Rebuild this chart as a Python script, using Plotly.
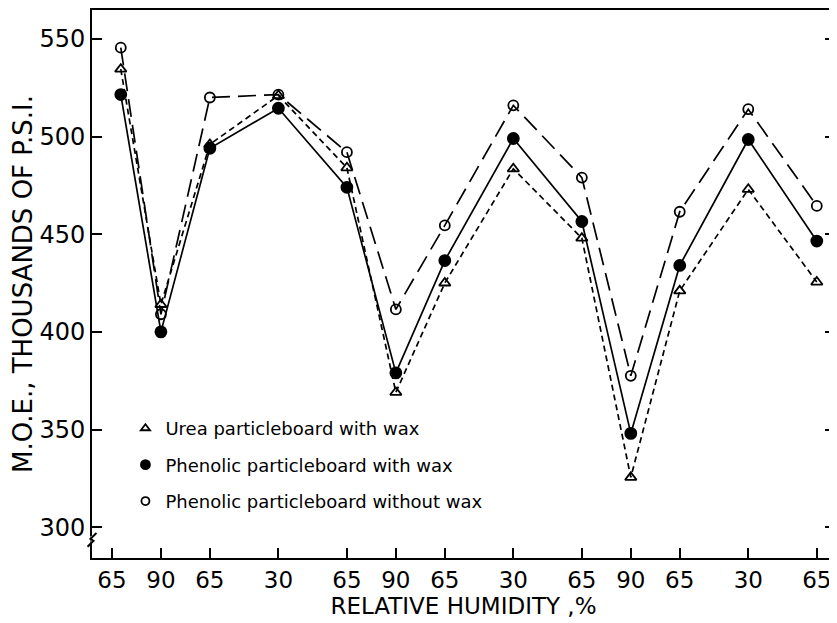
import plotly.graph_objects as go

# Relative humidity sequence (x-axis categories, spaced by humidity change)
rh_labels = [65, 90, 65, 30, 65, 90, 65, 30, 65, 90, 65, 30, 65]

# M.O.E. values, thousands of psi
urea_wax = [534.5, 414, 496, 521, 484, 369, 425, 483.5, 448, 325.5, 421, 473, 425.5]
phenolic_wax = [521.5, 400, 494, 514.5, 474, 379, 436.5, 499, 456.5, 348, 434, 498.5, 446.5]
phenolic_nowax = [545.5, 409, 520, 521.5, 492, 411.5, 454.5, 516, 479, 377.5, 461.5, 514, 464.5]

names = ["Urea particleboard with wax",
         "Phenolic particleboard with wax",
         "Phenolic particleboard without wax"]

# x positions: cumulative humidity change
xpos = [0]
for a, b in zip(rh_labels[:-1], rh_labels[1:]):
    xpos.append(xpos[-1] + abs(b - a))
first_offset = 4.5
xpts = [xpos[0] + first_offset] + xpos[1:]

FONT = "DejaVu Sans"
fig = go.Figure()

styles = [
    (urea_wax, "6px,4px", "triangle-up-open", 10, 8),
    (phenolic_wax, "solid", "circle", 11, 9),
    (phenolic_nowax, "18px,8px", "circle-open", 10, 8),
]

for vals, dash, sym, sz, lsz in styles:
    fig.add_trace(go.Scatter(x=xpts, y=vals, mode="lines", showlegend=False,
                             line=dict(color="black", width=1.7, dash=dash),
                             hoverinfo="skip"))
for (vals, dash, sym, sz, lsz), nm in zip(styles, names):
    fig.add_trace(go.Scatter(x=xpts, y=vals, mode="markers", showlegend=False,
                             marker=dict(symbol=sym, size=sz, color="black",
                                         line=dict(width=1.8, color="black")),
                             cliponaxis=False, name=nm))
    # legend entry (markers only, smaller as in the original)
    fig.add_trace(go.Scatter(x=[None], y=[None], mode="markers", name=nm,
                             legendgroup=nm, showlegend=True,
                             marker=dict(symbol=sym, size=lsz, color="black",
                                         line=dict(width=1.8, color="black"))))

fig.update_layout(
    width=829, height=615,
    margin=dict(l=84, r=2, t=0, b=65),
    paper_bgcolor="white", plot_bgcolor="white",
    font=dict(family=FONT, color="black", size=20),
    legend=dict(x=0.045, y=0.27, xanchor="left", yanchor="top",
                font=dict(size=18, family=FONT), bgcolor="rgba(0,0,0,0)",
                traceorder="grouped", tracegroupgap=10),
)
fig.update_xaxes(range=[-10.2, 369.3], tickvals=xpos, ticktext=[str(v) for v in rh_labels],
                 showgrid=False, zeroline=False, showline=True, linewidth=2, linecolor="black",
                 mirror=True, ticks="inside", ticklen=10, tickwidth=1.8, tickcolor="black",
                 tickfont=dict(size=23),
                 title=dict(text="RELATIVE HUMIDITY ,%", font=dict(size=23), standoff=6))
fig.update_yaxes(range=[284.2, 564.8], tickvals=[300, 350, 400, 450, 500, 550],
                 showgrid=False, zeroline=False, showline=True, linewidth=2, linecolor="black",
                 mirror="ticks", ticks="inside", ticklen=10, tickwidth=1.8, tickcolor="black",
                 tickfont=dict(size=24),
                 title=dict(text="M.O.E., THOUSANDS OF P.S.I.", font=dict(size=26), standoff=4))

# axis break mark on y-axis
fig.add_shape(type="line", xref="paper", yref="y", x0=0, x1=0, y0=291.5, y1=295.5,
              line=dict(color="white", width=3), layer="above")
fig.add_shape(type="path", xref="paper", yref="y",
              path="M -0.006,290 L 0.002,293 L -0.002,294 L 0.006,297",
              line=dict(color="black", width=2), layer="above")

fig.write_html("out.html")
